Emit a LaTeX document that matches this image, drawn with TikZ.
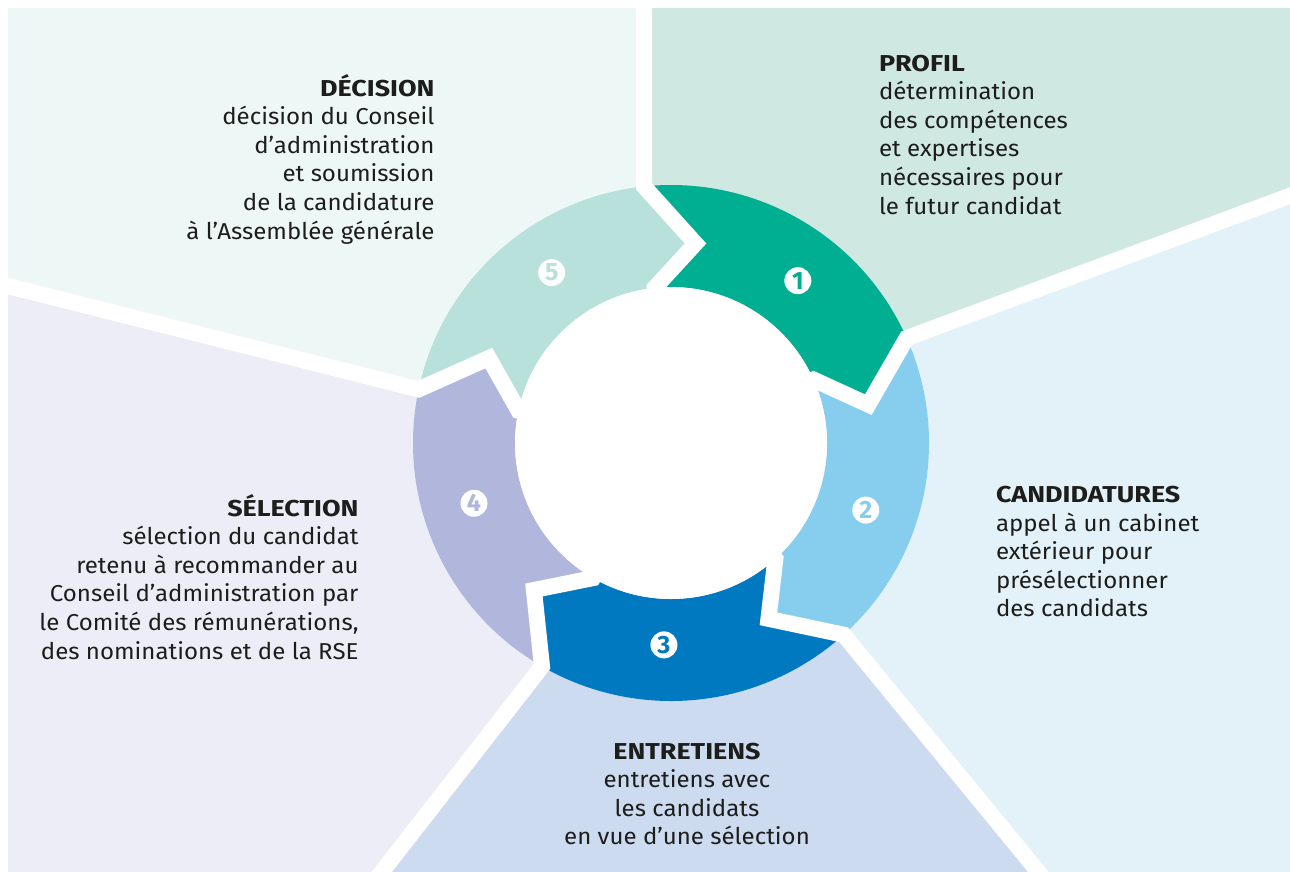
\documentclass[tikz,border=0pt]{standalone}
\usepackage{fontspec}
\setmainfont{Fira Sans}[FakeStretch=1.045, BoldFeatures={FakeStretch=1.17}]
\newfontfamily\numfont{Fira Sans}
\usetikzlibrary{calc}
\definecolor{pDec}{HTML}{EDF7F5}
\definecolor{pPro}{HTML}{CFE8E2}
\definecolor{pCan}{HTML}{E3F1F9}
\definecolor{pEnt}{HTML}{CDDBF0}
\definecolor{pSel}{HTML}{EDEDF7}
\definecolor{sA}{HTML}{00AE92}
\definecolor{sB}{HTML}{87CEEE}
\definecolor{sC}{HTML}{0079C0}
\definecolor{sD}{HTML}{B1B6DC}
\definecolor{sE}{HTML}{B7E1DA}
\definecolor{txtc}{HTML}{1D1D1B}
\begin{document}
\begin{tikzpicture}[x=1pt,y=1pt,
  txt/.style={inner sep=0pt, outer sep=0pt, text=txtc, font=\fontsize{23}{28.6}\selectfont},
  numdisc/.style={circle, fill=white, minimum size=27pt, inner sep=0pt, font=\numfont\bfseries\fontsize{25}{25}\selectfont},
  gapline/.style={draw=white, line width=16pt, miter limit=6}]
\useasboundingbox (0,0) rectangle (1290,-871);
\fill[white] (0,0) rectangle (1290,-871);
\coordinate (C) at (671,-443);
\foreach \i/\t in {0/96,1/24,2/-48,3/-120,4/-192,5/-264} {
  \coordinate (O\i) at ($(C)+(\t:258)$);
  \coordinate (T\i) at ($(C)+(\t-13:201)$);
  \coordinate (I\i) at ($(C)+(\t:156)$);
  \coordinate (J\i) at ($(C)+(\t:110)$);
}
\coordinate (E0) at ($(O0)+(0,300)$);
\coordinate (E1) at (1300,-192);
\coordinate (E2) at (1045,-880);
\coordinate (E3) at (375.5,-880);
\coordinate (E4) at (-10,-281.5);
% background panels
\begin{scope}
  \clip (8,-8) rectangle (1290,-871);
  \fill[pDec] (C) -- (O4) -- (E4) -- (-10,10) -- (E0) -- (O0) -- cycle;
  \fill[pPro] (C) -- (O0) -- (E0) -- (1300,10) -- (E1) -- (O1) -- cycle;
  \fill[pCan] (C) -- (O1) -- (E1) -- (1300,-880) -- (E2) -- (O2) -- cycle;
  \fill[pEnt] (C) -- (O2) -- (E2) -- (E3) -- (O3) -- cycle;
  \fill[pSel] (C) -- (O3) -- (E3) -- (-10,-880) -- (E4) -- (O4) -- cycle;
\end{scope}
% ring segments
\fill[sA] (O0) arc[start angle=96,end angle=24,radius=258] -- (T1) -- (I1)
  arc[start angle=24,end angle=96,radius=156] -- (T0) -- cycle;
\fill[sB] (O1) arc[start angle=24,end angle=-48,radius=258] -- (T2) -- (I2)
  arc[start angle=-48,end angle=24,radius=156] -- (T1) -- cycle;
\fill[sC] (O2) arc[start angle=-48,end angle=-120,radius=258] -- (T3) -- (I3)
  arc[start angle=-120,end angle=-48,radius=156] -- (T2) -- cycle;
\fill[sD] (O3) arc[start angle=-120,end angle=-192,radius=258] -- (T4) -- (I4)
  arc[start angle=-192,end angle=-120,radius=156] -- (T3) -- cycle;
\fill[sE] (O4) arc[start angle=-192,end angle=-264,radius=258] -- (T5) -- (I5)
  arc[start angle=-264,end angle=-192,radius=156] -- (T4) -- cycle;
% white separators
\foreach \i in {0,...,4} {
  \draw[gapline] (E\i) -- (O\i) -- (T\i) -- (I\i) -- (J\i);
}
\fill[white] (C) circle (156);
% numbers
\node[numdisc, text=sA] (n1) at ($(C)+(52:206)$) {1};
\node[numdisc, text=sB] (n2) at ($(C)+(-19:206)$) {2};
\node[numdisc, text=sC] (n3) at ($(C)+(-92:202)$) {3};
\node[numdisc, text=sD] (n4) at ($(C)+(-163:206)$) {4};
\node[numdisc, text=sE] (n5) at ($(C)+(125:208)$) {5};
% texts
\node[txt, anchor=base east] (decision) at (434.5,-96) {\begin{tabular}[t]{@{}r@{}}\textbf{DÉCISION}\\décision du Conseil\\d’administration\\et soumission\\de la candidature\\à l’Assemblée générale\end{tabular}};
\node[txt, anchor=base west] (profil) at (879,-71) {\begin{tabular}[t]{@{}l@{}}\textbf{PROFIL}\\détermination\\des compétences\\et expertises\\nécessaires pour\\le futur candidat\end{tabular}};
\node[txt, anchor=base west] (candidatures) at (996,-502.5) {\begin{tabular}[t]{@{}l@{}}\textbf{CANDIDATURES}\\appel à un cabinet\\extérieur pour\\présélectionner\\des candidats\end{tabular}};
\node[txt, anchor=base] (entretiens) at (687,-759) {\begin{tabular}[t]{@{}c@{}}\textbf{ENTRETIENS}\\entretiens avec\\les candidats\\en vue d’une sélection\end{tabular}};
\node[txt, anchor=base east] (selection) at (358.5,-516) {\begin{tabular}[t]{@{}r@{}}\textbf{SÉLECTION}\\sélection du candidat\\retenu à recommander au\\Conseil d’administration par\\le Comité des rémunérations,\\des nominations et de la RSE\end{tabular}};
\end{tikzpicture}
\end{document}
